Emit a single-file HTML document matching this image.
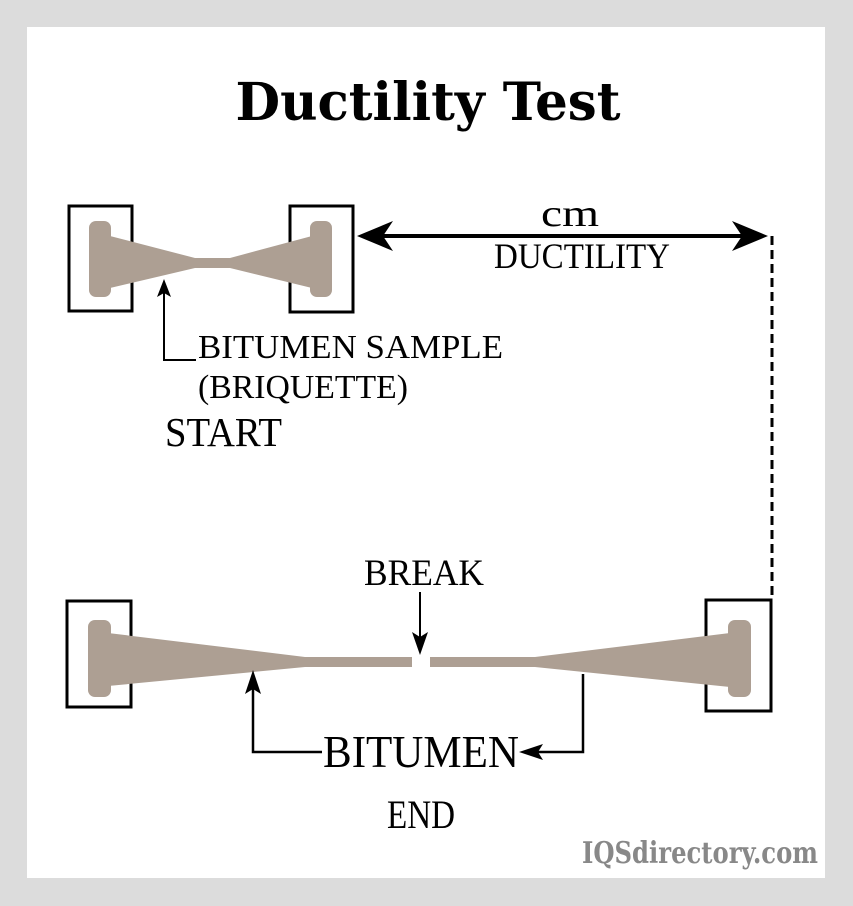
<!DOCTYPE html>
<html><head><meta charset="utf-8"><style>
html,body{margin:0;padding:0;background:#dcdcdc;}
svg{display:block;}
.t{font-family:"DejaVu Serif","Liberation Serif",serif;}
.s{font-family:"Liberation Serif","DejaVu Serif",serif;}
</style></head><body>
<svg width="853" height="906" viewBox="0 0 853 906" xmlns="http://www.w3.org/2000/svg">
<rect x="0" y="0" width="853" height="906" fill="#dcdcdc"/>
<rect x="27" y="27" width="798" height="851" fill="#ffffff"/>
<text x="428" y="120" text-anchor="middle" class="t" font-weight="bold" font-size="52" textLength="385" lengthAdjust="spacingAndGlyphs">Ductility Test</text>

<!-- top sample -->
<rect x="69" y="206" width="63" height="105" fill="none" stroke="#000" stroke-width="3"/>
<rect x="290" y="206" width="63" height="106" fill="none" stroke="#000" stroke-width="3"/>
<path d="M110,236 L195,258 L230,258 L312,236 L312,288 L230,268 L195,268 L110,288 Z" fill="#ad9f93"/>
<rect x="89" y="221" width="22" height="76" rx="7" fill="#ad9f93"/>
<rect x="310" y="221" width="22" height="76" rx="7" fill="#ad9f93"/>
<line x1="380" y1="236" x2="746" y2="236" stroke="#000" stroke-width="4"/>
<path d="M357,236 L393,221 L383,236 L393,251 Z" fill="#000"/>
<path d="M768,236 L732,221 L742,236 L732,251 Z" fill="#000"/>
<line x1="772" y1="236" x2="772" y2="600" stroke="#000" stroke-width="3" stroke-dasharray="9,5"/>
<text x="570" y="226" text-anchor="middle" class="s" font-size="38" textLength="58" lengthAdjust="spacingAndGlyphs">cm</text>
<text x="582" y="268" text-anchor="middle" class="s" font-size="36" textLength="176" lengthAdjust="spacingAndGlyphs">DUCTILITY</text>
<polyline points="196,360 164,360 164,282" fill="none" stroke="#000" stroke-width="2"/>
<path d="M164,279 L157,297 L164,293 L171,297 Z" fill="#000"/>
<text x="198" y="358" class="s" font-size="34" textLength="305" lengthAdjust="spacingAndGlyphs">BITUMEN SAMPLE</text>
<text x="198" y="398" class="s" font-size="34" textLength="210" lengthAdjust="spacingAndGlyphs">(BRIQUETTE)</text>
<text x="165" y="446" class="s" font-size="41" textLength="117" lengthAdjust="spacingAndGlyphs">START</text>

<!-- bottom sample -->
<rect x="67" y="601" width="64" height="106" fill="none" stroke="#000" stroke-width="3"/>
<rect x="706" y="600" width="65" height="111" fill="none" stroke="#000" stroke-width="3"/>
<path d="M108,633 L305,657 L412,657 L412,667 L305,667 L108,686 Z" fill="#ad9f93"/>
<path d="M430,657 L535,657 L730,633 L730,687 L535,667 L430,667 Z" fill="#ad9f93"/>
<rect x="88" y="620" width="23" height="77" rx="7" fill="#ad9f93"/>
<rect x="728" y="620" width="23" height="77" rx="7" fill="#ad9f93"/>
<text x="424" y="585" text-anchor="middle" class="s" font-size="37" textLength="120" lengthAdjust="spacingAndGlyphs">BREAK</text>
<line x1="420" y1="592" x2="420" y2="640" stroke="#000" stroke-width="2"/>
<path d="M420,655 L412,632 L420,637 L428,632 Z" fill="#000"/>
<polyline points="322,752 253,752 253,684" fill="none" stroke="#000" stroke-width="2.5"/>
<path d="M253,670 L245,694 L253,689 L261,694 Z" fill="#000"/>
<polyline points="583,674 583,752 530,752" fill="none" stroke="#000" stroke-width="2.5"/>
<path d="M519,752 L543,744 L538,752 L543,760 Z" fill="#000"/>
<text x="421" y="767" text-anchor="middle" class="s" font-size="46" textLength="196" lengthAdjust="spacingAndGlyphs">BITUMEN</text>
<text x="421" y="828" text-anchor="middle" class="s" font-size="40" textLength="68" lengthAdjust="spacingAndGlyphs">END</text>

<text x="818" y="863" text-anchor="end" class="t" font-weight="bold" font-size="30" fill="#888" textLength="236" lengthAdjust="spacingAndGlyphs">IQSdirectory.com</text>
</svg>
</body></html>
